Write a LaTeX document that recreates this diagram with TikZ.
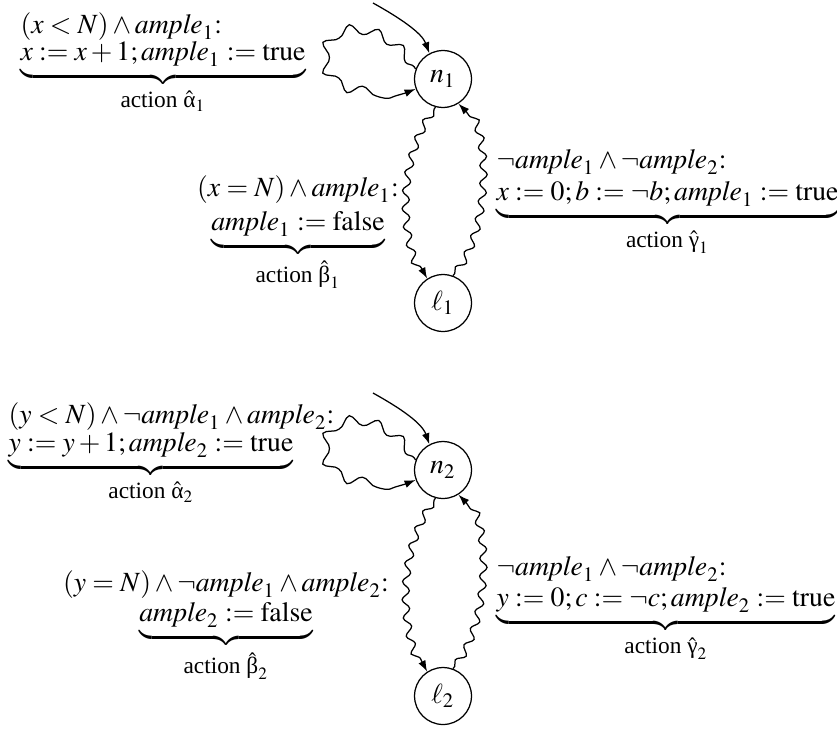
\documentclass[tikz,border=0pt]{standalone}
\usepackage{amsmath}
\usepackage{mathptmx}
\usepackage[no-math]{fontspec}
\setmainfont{Liberation Serif}
\usetikzlibrary{arrows.meta,decorations.pathmorphing}
\newcommand{\act}[2]{\text{\fontsize{8.4pt}{10pt}\selectfont action $\hat{\text{#1}}_{#2}$}}
\begin{document}
\begin{tikzpicture}[x=0.36pt,y=-0.36pt,
  line width=0.45pt,
  state/.style={draw,circle,minimum size=20.5pt,inner sep=0pt},
  lbl/.style={inner sep=0pt},
  wavy/.style={decorate,decoration={snake,amplitude=1.3pt,segment length=6.5pt,pre length=1pt,post length=4pt}},
  loopwave/.style={decorate,decoration={snake,amplitude=1.7pt,segment length=10pt,pre length=1pt,post length=4pt}},
  tip/.style={-{Latex[length=4pt,width=2.8pt]}}]
\useasboundingbox (0,0) rectangle (837,729);

% ---------- top automaton ----------
\node[state] (n1) at (443,79) {$n_1$};
\node[state] (l1) at (443,303) {$\ell_1$};
\coordinate (s1) at (373,3);
\draw[tip] (s1) .. controls (400,18) and (422,33) .. (n1.118);
\draw[tip,loopwave] (n1.160) .. controls (390,28) and (330,22) .. (329,63)
                    .. controls (328,105) and (390,102) .. (n1.200);
\draw[tip,wavy] (n1.255) .. controls (398,160) and (403,240) .. (l1.123);
\draw[tip,wavy] (l1.70) .. controls (488,235) and (490,125) .. (n1.302);

\node[lbl,anchor=base west] (a1a) at (20,33) {$(x<N)\wedge\mathit{ample}_1{:}$};
\node[lbl,anchor=base west] (a1b) at (20,60)
  {$\underbrace{x:=x+1;\mathit{ample}_1:=\mathrm{true}}_{\act{α}{1}}$};
\node[lbl,anchor=base] (b1a) at (298,196) {$(x=N)\wedge\mathit{ample}_1{:}$};
\node[lbl,anchor=base] (b1b) at (298,230)
  {$\underbrace{\mathit{ample}_1:=\mathrm{false}}_{\act{β}{1}}$};
\node[lbl,anchor=base west] (g1a) at (496,168) {$\neg\mathit{ample}_1\wedge\neg\mathit{ample}_2{:}$};
\node[lbl,anchor=base west] (g1b) at (496,200)
  {$\underbrace{x:=0;b:=\neg b;\mathit{ample}_1:=\mathrm{true}}_{\act{γ}{1}}$};

% ---------- bottom automaton ----------
\node[state] (n2) at (443,470) {$n_2$};
\node[state] (l2) at (443,696) {$\ell_2$};
\coordinate (s2) at (373,393);
\draw[tip] (s2) .. controls (400,408) and (422,423) .. (n2.118);
\draw[tip,loopwave] (n2.160) .. controls (390,419) and (330,413) .. (329,454)
                    .. controls (328,496) and (390,493) .. (n2.200);
\draw[tip,wavy] (n2.255) .. controls (398,551) and (403,631) .. (l2.123);
\draw[tip,wavy] (l2.70) .. controls (488,626) and (490,516) .. (n2.302);

\node[lbl,anchor=base west] (a2a) at (8,423) {$(y<N)\wedge\neg\mathit{ample}_1\wedge\mathit{ample}_2{:}$};
\node[lbl,anchor=base west] (a2b) at (8,451)
  {$\underbrace{y:=y+1;\mathit{ample}_2:=\mathrm{true}}_{\act{α}{2}}$};
\node[lbl,anchor=base] (b2a) at (226,591) {$(y=N)\wedge\neg\mathit{ample}_1\wedge\mathit{ample}_2{:}$};
\node[lbl,anchor=base] (b2b) at (226,621)
  {$\underbrace{\mathit{ample}_2:=\mathrm{false}}_{\act{β}{2}}$};
\node[lbl,anchor=base west] (g2a) at (496,575) {$\neg\mathit{ample}_1\wedge\neg\mathit{ample}_2{:}$};
\node[lbl,anchor=base west] (g2b) at (496,606)
  {$\underbrace{y:=0;c:=\neg c;\mathit{ample}_2:=\mathrm{true}}_{\act{γ}{2}}$};
\end{tikzpicture}
\end{document}
